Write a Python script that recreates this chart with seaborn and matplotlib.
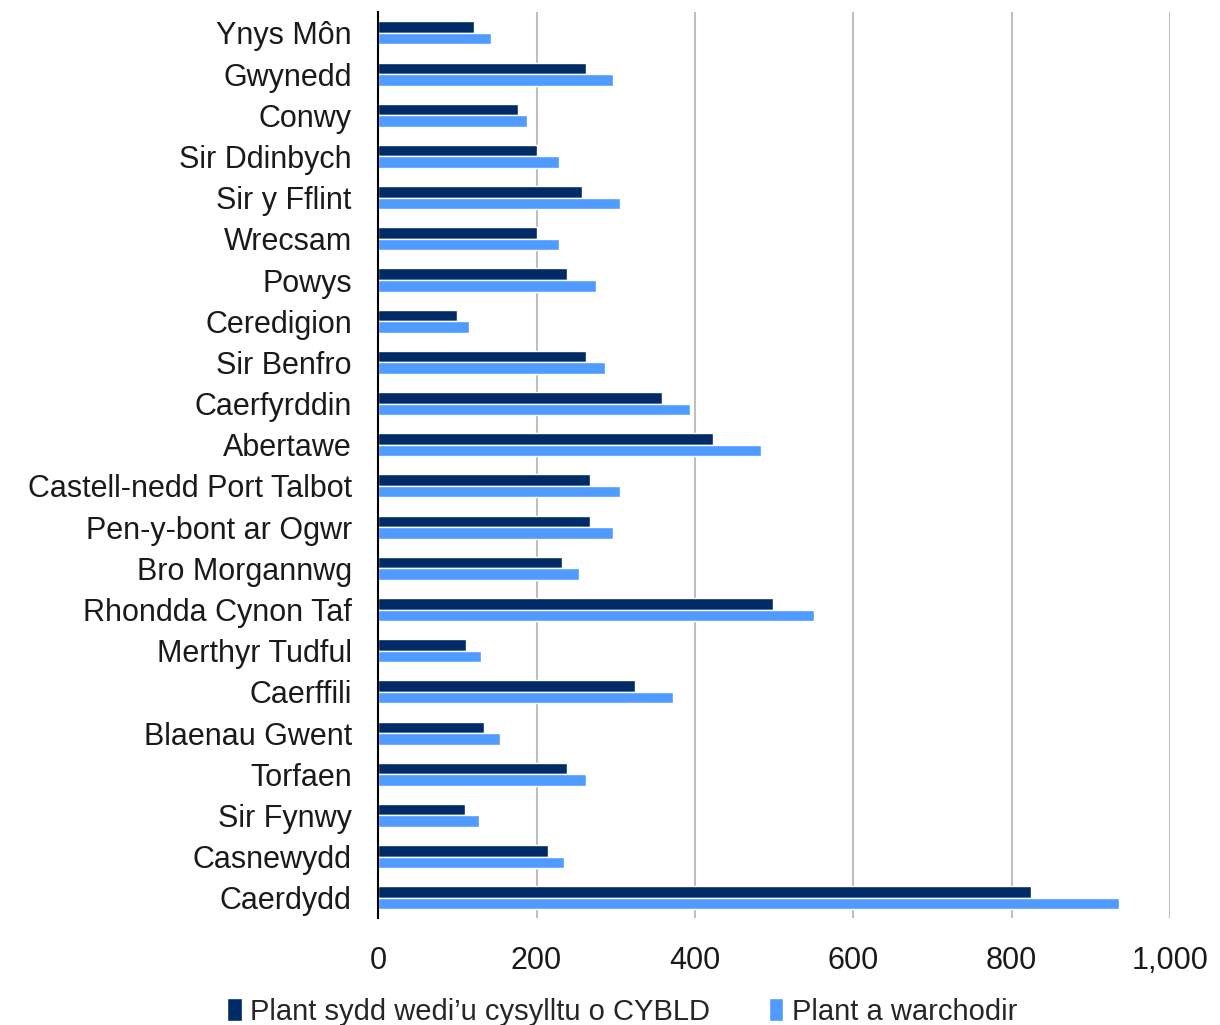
import pandas as pd
import seaborn as sns
import matplotlib.pyplot as plt
from matplotlib.ticker import FuncFormatter

# Data
areas = ['Ynys Môn', 'Gwynedd', 'Conwy', 'Sir Ddinbych', 'Sir y Fflint', 'Wrecsam',
         'Powys', 'Ceredigion', 'Sir Benfro', 'Caerfyrddin', 'Abertawe',
         'Castell-nedd Port Talbot', 'Pen-y-bont ar Ogwr', 'Bro Morgannwg',
         'Rhondda Cynon Taf', 'Merthyr Tudful', 'Caerffili', 'Blaenau Gwent',
         'Torfaen', 'Sir Fynwy', 'Casnewydd', 'Caerdydd']
cybld = [121, 263, 176, 200, 258, 201, 238, 100, 263, 359, 423, 268, 268, 232,
         499, 111, 324, 134, 238, 109, 215, 824]
looked_after = [143, 297, 188, 228, 306, 228, 275, 115, 287, 394, 484, 306, 296, 254,
                550, 130, 372, 154, 263, 127, 235, 936]
series = ['Plant sydd wedi\u2019u cysylltu o CYBLD', 'Plant a warchodir']
colors = ['#002B66', '#4F9BFF']

df = pd.DataFrame({'area': areas * 2,
                   'value': cybld + looked_after,
                   'series': [series[0]] * len(areas) + [series[1]] * len(areas)})

sns.set_style('white')
plt.rcParams['font.family'] = ['Liberation Sans', 'DejaVu Sans']

fig, ax = plt.subplots(figsize=(12.2, 10.25), dpi=100)
fig.subplots_adjust(left=0.31, right=0.959, top=0.988, bottom=0.104)

sns.barplot(data=df, y='area', x='value', hue='series', palette=colors,
            order=areas, hue_order=series, width=0.56, orient='h',
            saturation=1, ax=ax)

ax.set_xlim(0, 1000)
ax.set_xticks(range(0, 1001, 200))
ax.xaxis.set_major_formatter(FuncFormatter(lambda v, p: f'{int(v):,}'))
ax.grid(axis='x', color='#BFBFBF', linewidth=1.5)
ax.set_axisbelow(True)
ax.set_xlabel('')
ax.set_ylabel('')
for s in ['top', 'right', 'bottom']:
    ax.spines[s].set_visible(False)
ax.spines['left'].set_color('black')
ax.spines['left'].set_linewidth(1.5)
ax.tick_params(axis='both', length=0, labelsize=22, colors='#1a1a1a')
ax.tick_params(axis='x', pad=20)
ax.tick_params(axis='y', pad=19)

ax.legend_.remove()
handles, labels = ax.get_legend_handles_labels()
fig.legend(handles, labels, loc='center', bbox_to_anchor=(0.51, 0.013), ncol=2,
           frameon=False, fontsize=21, handlelength=0.5, handleheight=0.8,
           handletextpad=0.3, columnspacing=2.0)

fig.savefig('out.png', dpi=100)
